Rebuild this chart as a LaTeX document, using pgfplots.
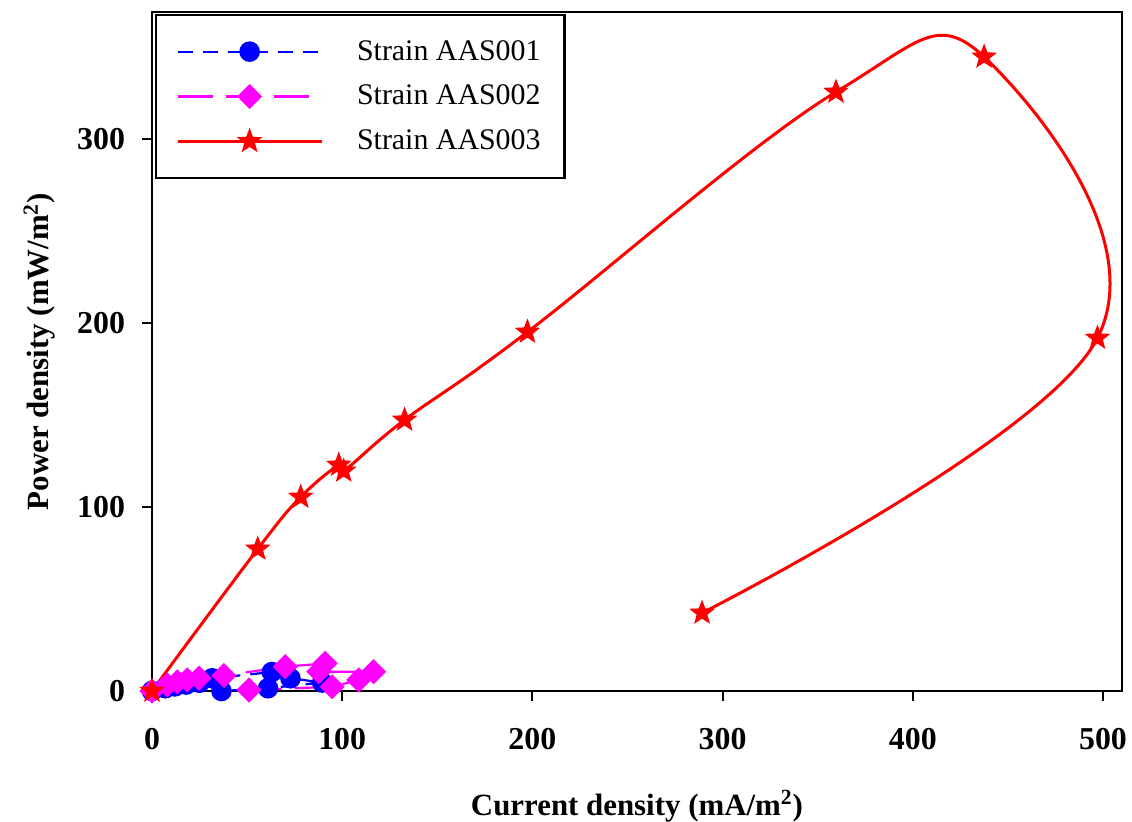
\documentclass[border=0pt]{standalone}
\usepackage{fontspec}
\setmainfont{Liberation Serif}
\usepackage{pgfplots}
\pgfplotsset{compat=1.18}
\usetikzlibrary{plotmarks}

\pgfdeclareplotmark{fstar}{%
  \pgfpathmoveto{\pgfpointpolar{90}{\pgfplotmarksize}}%
  \pgfpathlineto{\pgfpointpolar{126}{0.42\pgfplotmarksize}}%
  \pgfpathlineto{\pgfpointpolar{162}{\pgfplotmarksize}}%
  \pgfpathlineto{\pgfpointpolar{198}{0.42\pgfplotmarksize}}%
  \pgfpathlineto{\pgfpointpolar{234}{\pgfplotmarksize}}%
  \pgfpathlineto{\pgfpointpolar{270}{0.42\pgfplotmarksize}}%
  \pgfpathlineto{\pgfpointpolar{306}{\pgfplotmarksize}}%
  \pgfpathlineto{\pgfpointpolar{342}{0.42\pgfplotmarksize}}%
  \pgfpathlineto{\pgfpointpolar{18}{\pgfplotmarksize}}%
  \pgfpathlineto{\pgfpointpolar{54}{0.42\pgfplotmarksize}}%
  \pgfpathclose
  \pgfusepathqfillstroke
}

\definecolor{cblue}{RGB}{0,0,255}
\definecolor{cmag}{RGB}{255,0,255}
\definecolor{cred}{RGB}{255,0,0}

\begin{document}
\begin{tikzpicture}
\useasboundingbox (-76bp,-65.5bp) rectangle (490bp,345.5bp);
\begin{axis}[
  scale only axis, width=485bp, height=339.5bp,
  xmin=0, xmax=510, ymin=0, ymax=369,
  clip=false,
  axis line style={line width=1.2bp},
  xtick={0,100,200,300,400,500}, ytick={0,100,200,300},
  xtick pos=left, ytick pos=left,
  tick align=outside, major tick length=5bp,
  tick style={line width=1bp, black},
  /pgf/number format/assume math mode=true,
  ticklabel style={font=\fontsize{16}{18}\selectfont\bfseries},
  xticklabel shift=10bp,
  yticklabel shift=5bp,
  xlabel={Current density (mA/m\textsuperscript{2})},
  ylabel={Power density (mW/m\textsuperscript{2})},
  label style={font=\fontsize{15.5}{18}\selectfont\bfseries},
  xlabel style={at={(axis description cs:0.5,0)}, anchor=base, yshift=-62bp},
  ylabel style={at={(axis description cs:-0.107,0.5)}, anchor=base},
  legend cell align=left,
  legend style={at={(axis description cs:0.003,0.997)}, anchor=north west,
    draw=black, line width=1.2bp, inner xsep=10bp, inner ysep=10.5bp,
    font=\fontsize{15}{18}\selectfont, row sep=7bp,
    /tikz/every odd column/.append style={column sep=15bp}},
  legend image code/.code={%
    \draw[mark repeat=2,mark phase=2] plot coordinates {(0bp,0bp) (36bp,0bp) (72bp,0bp)};},
]
\addplot[color=cblue, line width=1.1bp, dash pattern=on 7.5bp off 5bp,
  mark=*, mark size=4.6bp, mark options={solid, fill=cblue}]
  coordinates {(0,0) (7,1.5) (12,2.5) (18,3.5) (25,4.5) (31.6,6.9) (63,10.3) (72.8,6.9) (89.5,4.6) (61,1.5) (36.5,0)};
\addlegendentry{Strain AAS001}
\addplot[color=cmag, line width=1.1bp, dash pattern=on 17.5bp off 6.5bp,
  mark=square*, mark size=3.9bp, mark options={solid, rotate=45, fill=cmag}]
  coordinates {(0,0) (8,3.3) (13.3,5) (18.5,6) (24.7,6.9) (37.8,8.4) (70,13.2) (91,15) (87.7,10.5) (116.5,10.5) (108.7,6) (94.7,2.3) (51,0.5)};
\addlegendentry{Strain AAS002}
\addplot[color=cred, line width=1.5bp, smooth, tension=0.65,
  mark=fstar, mark size=4.6bp, mark options={fill=cred}]
  coordinates {(0,0) (55.6,77.2) (78.2,105.4) (98.2,122.8) (100.8,119.6) (132.8,147.3) (197.4,195.1) (359.6,325.5) (437.5,344.6) (497.1,191.8) (289.2,42.4)};
\addlegendentry{Strain AAS003}
\end{axis}
\end{tikzpicture}
\end{document}
